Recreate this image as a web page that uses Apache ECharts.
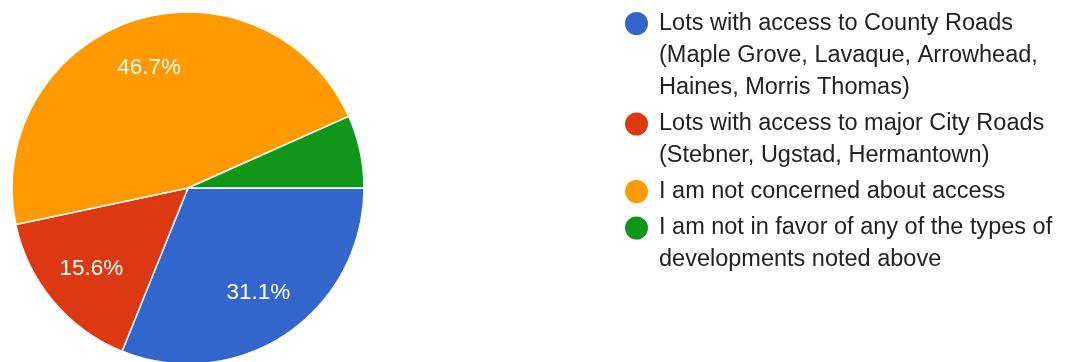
<!DOCTYPE html>
<html>
<head>
<meta charset="utf-8">
<script src="https://cdn.jsdelivr.net/npm/echarts@6/dist/echarts.min.js"></script>
<style>
html, body { margin: 0; padding: 0; background: #fff; }
#main { width: 1066px; height: 362px; }
</style>
</head>
<body>
<div id="main"></div>
<script>
// answers (legend text, with line breaks as in the form)
var categories = [
  'Lots with access to County Roads\n(Maple Grove, Lavaque, Arrowhead,\nHaines, Morris Thomas)',
  'Lots with access to major City Roads\n(Stebner, Ugstad, Hermantown)',
  'I am not concerned about access',
  'I am not in favor of any of the types of\ndevelopments noted above'
];
// responses per answer (45 total)
var counts = [14, 7, 21, 3];
var colors = ['#3366cc', '#dc3912', '#ff9900', '#109618'];
var showLabel = [true, true, true, false];

var total = counts.reduce(function (a, b) { return a + b; }, 0);
var chart = echarts.init(document.getElementById('main'));

var pieData = categories.map(function (c, i) {
  return { name: c, value: counts[i], itemStyle: { color: colors[i] } };
});
var labelData = categories.map(function (c, i) {
  return { name: c, value: counts[i], label: { show: showLabel[i] } };
});

// one legend per answer; blank lines put in front keep the icon on the first line
var lineH = 32;
var iconCenters = [23.5, 124, 191.5, 228];
var legends = categories.map(function (c, i) {
  var n = c.split('\n').length;
  return {
    data: [c],
    left: 625,
    top: iconCenters[i] - (n - 0.5) * lineH,
    orient: 'vertical',
    icon: 'circle',
    itemWidth: 23,
    itemHeight: 23,
    itemGap: 0,
    padding: 0,
    selectedMode: false,
    itemStyle: { borderWidth: 0 },
    formatter: function (name) {
      var k = name.split('\n').length;
      return new Array(k).join('\n') + name;
    },
    textStyle: {
      fontFamily: 'Arial, "Liberation Sans", sans-serif',
      fontSize: 23.5,
      lineHeight: lineH,
      color: '#222',
      padding: [0, 0, 0, 6]
    }
  };
});

chart.setOption({
  animation: false,
  legend: legends,
  series: [
    {
      name: 'access',
      type: 'pie',
      center: [188, 188],
      radius: [0, 176],
      startAngle: 0,
      clockwise: true,
      label: { show: false },
      labelLine: { show: false },
      itemStyle: { borderColor: '#fff', borderWidth: 1.5 },
      emphasis: { disabled: true },
      data: pieData
    },
    {
      // transparent copy only to place the % labels further out
      name: 'labels',
      type: 'pie',
      center: [188, 188],
      radius: [0, 246],
      startAngle: 0,
      clockwise: true,
      silent: true,
      itemStyle: { color: 'rgba(0,0,0,0)' },
      emphasis: { disabled: true },
      label: {
        position: 'inside',
        formatter: function (p) {
          return (p.value / total * 100).toFixed(1) + '%';
        },
        color: '#fff',
        fontSize: 22.5,
        fontFamily: 'Arial, "Liberation Sans", sans-serif'
      },
      labelLine: { show: false },
      data: labelData
    }
  ]
});
</script>
</body>
</html>
